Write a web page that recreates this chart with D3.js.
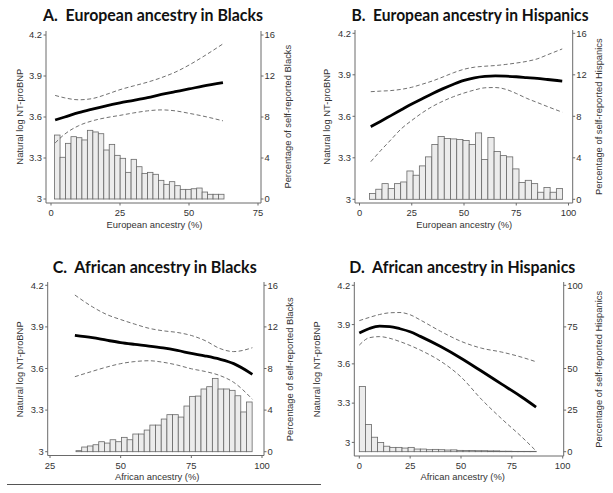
<!DOCTYPE html>
<html><head><meta charset="utf-8">
<script src="https://cdnjs.cloudflare.com/ajax/libs/d3/7.8.5/d3.min.js"></script>
<style>
html,body{margin:0;padding:0;background:#fff;}
svg{display:block;}
</style></head>
<body><svg id="chart" width="613" height="493"></svg>
<script>
// ---------------- DATA ----------------
const titles = ["A.  European ancestry in Blacks","B.  European ancestry in Hispanics","C.  African ancestry in Blacks","D.  African ancestry in Hispanics"];
const xLabels = ["European ancestry (%)","European ancestry (%)","African ancestry (%)","African ancestry (%)"];
const yLabel = "Natural log NT-proBNP";
const rLabels = ["Percentage of self-reported Blacks","Percentage of self-reported Hispanics","Percentage of self-reported Blacks","Percentage of self-reported Hispanics"];

const yTicks = [3, 3.3, 3.6, 3.9, 4.2];
const xTicksA = [0, 25, 50, 75];
const xTicksB = [0, 25, 50, 75, 100];
const xTicksC = [25, 50, 75, 100];
const xTicksD = [0, 25, 50, 75, 100];
const rTicksA = [0, 4, 8, 12, 16];
const rTicksB = [0, 4, 8, 12, 16];
const rTicksC = [0, 4, 8, 12, 16];
const rTicksD = [0, 25, 50, 75, 100];

// histogram bins: first bin start and bin width (ancestry %)
const binStartA = 1.3, binWidthA = 1.98;
const binStartB = 4.8, binWidthB = 2.98;
const binStartC = 34.2, binWidthC = 2.01;
const binStartD = 0, binWidthD = 3.0;

const histA = [6.24,4.07,5.43,6.08,5.98,5.76,6.70,6.54,6.37,4.78,5.33,4.26,3.97,2.60,3.87,3.15,2.50,2.60,2.41,1.82,1.43,1.69,1.30,0.94,0.94,1.00,1.07,0.68,0.46,0.46,0.46];
const histB = [0.55,0.97,1.51,1.03,1.51,1.67,2.73,2.32,3.22,4.09,5.28,6.05,5.86,5.82,5.76,5.66,5.28,6.40,3.83,5.95,4.60,4.21,4.09,2.93,1.61,1.83,1.51,0.68,1.13,0.68,1.03];
const histC = [0.10,0.45,0.55,0.67,0.96,0.83,1.15,0.96,1.38,1.15,1.70,1.70,2.08,2.56,2.56,3.14,3.56,3.56,3.33,4.39,5.32,5.35,6.03,6.25,7.05,6.03,6.03,5.90,5.38,3.82,4.78];
const histD = [39.2,16.3,8.7,5.5,3.3,2.6,2.6,2.2,2.6,1.6,1.6,1.2,1.4,1.2,1.0,1.1,0.8,0.7,0.7,0.6,0.6,0.5,0.5,0.3,0.3,0.2,0.2,0.2,0.2];

// fitted curves (x = ancestry %, y = ln NT-proBNP)
const curveXA = [1.5,5,10,15,20,25,30,35,40,45,50,55,62.3];
const fitA    = [3.578,3.600,3.632,3.658,3.682,3.703,3.722,3.742,3.765,3.785,3.805,3.826,3.852];
const upperA  = [3.758,3.740,3.726,3.735,3.765,3.800,3.828,3.855,3.888,3.928,3.980,4.040,4.135];
const lowerA  = [3.410,3.475,3.536,3.572,3.595,3.612,3.630,3.645,3.652,3.645,3.627,3.607,3.572];

const curveXB = [5.4,10,15,20,25,30,35,40,45,50,55,60,65,70,75,80,85,90,97];
const fitB    = [3.525,3.563,3.605,3.647,3.689,3.727,3.765,3.800,3.832,3.860,3.878,3.888,3.892,3.890,3.886,3.880,3.874,3.866,3.855];
const upperB  = [3.778,3.782,3.786,3.795,3.810,3.832,3.856,3.885,3.915,3.940,3.955,3.962,3.967,3.975,3.985,3.997,4.015,4.045,4.087];
const lowerB  = [3.272,3.350,3.430,3.510,3.570,3.625,3.672,3.710,3.742,3.768,3.790,3.806,3.808,3.795,3.765,3.730,3.700,3.670,3.630];

const curveXC = [33.8,40,45,50,55,60,65,70,75,80,85,90,96.6];
const fitC    = [3.839,3.822,3.804,3.787,3.774,3.762,3.748,3.730,3.709,3.690,3.667,3.635,3.558];
const upperC  = [4.130,4.045,3.990,3.953,3.920,3.890,3.872,3.860,3.838,3.800,3.745,3.722,3.750];
const lowerC  = [3.541,3.580,3.610,3.635,3.650,3.656,3.645,3.625,3.598,3.578,3.550,3.500,3.378];

const curveXD = [0,5,10,15,20,25,30,40,50,60,70,80,86.9];
const fitD    = [3.835,3.870,3.888,3.885,3.868,3.845,3.810,3.732,3.643,3.545,3.445,3.345,3.270];
const upperD  = [3.930,3.955,3.977,3.990,3.992,3.975,3.935,3.848,3.772,3.720,3.690,3.650,3.616];
const lowerD  = [3.743,3.800,3.808,3.795,3.770,3.740,3.705,3.620,3.500,3.330,3.180,3.040,2.935];

// ---------------- LAYOUT ----------------
const panels = [
  {title:titles[0], xLabel:xLabels[0], rLabel:rLabels[0], xTicks:xTicksA, rTicks:rTicksA,
   hist:histA, binStart:binStartA, binWidth:binWidthA, cx:curveXA, fit:fitA, up:upperA, lo:lowerA,
   xDom:[0,75], xRng:[51,258], yRng:[199,35], rDom:[0,16], rRng:[199,35],
   box:{l:46,r:261,t:31,b:203}, tX:153, tY:21, tW:220, xlX:154.5, xlY:228, ylX:19.5, rlX:287.5, lY:116.7},
  {title:titles[1], xLabel:xLabels[1], rLabel:rLabels[1], xTicks:xTicksB, rTicks:rTicksB,
   hist:histB, binStart:binStartB, binWidth:binWidthB, cx:curveXB, fit:fitB, up:upperB, lo:lowerB,
   xDom:[0,100], xRng:[359.5,568.5], yRng:[199.3,33.3], rDom:[0,16], rRng:[199.3,33.3],
   box:{l:355,r:572.7,t:30,b:203}, tX:470, tY:21, tW:237, xlX:464.3, xlY:228, ylX:327, rlX:598.5, lY:116.7},
  {title:titles[2], xLabel:xLabels[2], rLabel:rLabels[2], xTicks:xTicksC, rTicks:rTicksC,
   hist:histC, binStart:binStartC, binWidth:binWidthC, cx:curveXC, fit:fitC, up:upperC, lo:lowerC,
   xDom:[25,100], xRng:[50,262], yRng:[451.7,285.3], rDom:[0,16], rRng:[451.7,285.3],
   box:{l:47.7,r:264,t:282,b:455.5}, tX:154.7, tY:272.7, tW:204, xlX:157.2, xlY:480, ylX:19.5, rlX:289.5, lY:369.3},
  {title:titles[3], xLabel:xLabels[3], rLabel:rLabels[3], xTicks:xTicksD, rTicks:rTicksD,
   hist:histD, binStart:binStartD, binWidth:binWidthD, cx:curveXD, fit:fitD, up:upperD, lo:lowerD,
   xDom:[0,100], xRng:[359.3,562.7], yRng:[442.4,285.3], rDom:[0,100], rRng:[451.7,285.3],
   box:{l:354.3,r:563.7,t:282,b:456}, tX:462.3, tY:272.7, tW:226, xlX:462.7, xlY:480, ylX:317, rlX:598.5, lY:369.3}
];

const svg = d3.select("#chart");
const axisCol = "#6a6a6a", textCol = "#333", font = "'Liberation Sans', Arial, sans-serif";
const fs = 9.4;

panels.forEach(p => {
  const g = svg.append("g");
  const x = d3.scaleLinear().domain(p.xDom).range(p.xRng);
  const y = d3.scaleLinear().domain([3, 4.2]).range(p.yRng);
  const r = d3.scaleLinear().domain(p.rDom).range(p.rRng);

  // histogram
  g.append("g").selectAll("rect").data(p.hist).join("rect")
    .attr("x", (d,i) => x(p.binStart + i*p.binWidth))
    .attr("width", (d,i) => x(p.binStart + (i+1)*p.binWidth) - x(p.binStart + i*p.binWidth))
    .attr("y", d => r(d))
    .attr("height", d => r(0) - r(d))
    .attr("fill", "#ececec").attr("stroke", "#686868").attr("stroke-width", 0.8);

  const line = d3.line().x((d,i) => x(p.cx[i])).y(d => y(d)).curve(d3.curveMonotoneX);
  g.append("path").attr("d", line(p.up)).attr("fill","none").attr("stroke","#606060")
    .attr("stroke-width",0.9).attr("stroke-dasharray","4,2.5");
  g.append("path").attr("d", line(p.lo)).attr("fill","none").attr("stroke","#606060")
    .attr("stroke-width",0.9).attr("stroke-dasharray","4,2.5");
  g.append("path").attr("d", line(p.fit)).attr("fill","none").attr("stroke","#000")
    .attr("stroke-width",2.8);

  // axis lines
  const b = p.box;
  g.append("line").attr("x1",b.l).attr("x2",b.l).attr("y1",b.t).attr("y2",b.b).attr("stroke",axisCol).attr("stroke-width",1);
  g.append("line").attr("x1",b.r).attr("x2",b.r).attr("y1",b.t).attr("y2",b.b).attr("stroke",axisCol).attr("stroke-width",1);
  g.append("line").attr("x1",b.l).attr("x2",b.r).attr("y1",b.b).attr("y2",b.b).attr("stroke",axisCol).attr("stroke-width",1);

  // left ticks
  yTicks.forEach(t => {
    g.append("line").attr("x1",b.l-2.5).attr("x2",b.l).attr("y1",y(t)).attr("y2",y(t)).attr("stroke",axisCol);
    g.append("text").attr("x",b.l-4).attr("y",y(t)).attr("dy","0.35em").attr("text-anchor","end")
      .attr("font-family",font).attr("font-size",fs).attr("fill",textCol).text(String(t));
  });
  // right ticks
  p.rTicks.forEach(t => {
    g.append("line").attr("x1",b.r).attr("x2",b.r+2.5).attr("y1",r(t)).attr("y2",r(t)).attr("stroke",axisCol);
    g.append("text").attr("x",b.r+3.5).attr("y",r(t)).attr("dy","0.35em").attr("text-anchor","start")
      .attr("font-family",font).attr("font-size",fs).attr("fill",textCol).text(String(t));
  });
  // x ticks
  p.xTicks.forEach(t => {
    g.append("line").attr("x1",x(t)).attr("x2",x(t)).attr("y1",b.b).attr("y2",b.b+2.5).attr("stroke",axisCol);
    g.append("text").attr("x",x(t)).attr("y",b.b+13).attr("text-anchor","middle")
      .attr("font-family",font).attr("font-size",fs).attr("fill",textCol).text(String(t));
  });

  // titles
  g.append("text").attr("x",p.tX).attr("y",p.tY).attr("text-anchor","middle")
    .attr("font-family","Lato, 'Open Sans', sans-serif").attr("font-weight","bold").attr("font-size",16.8)
    .attr("textLength",p.tW).attr("lengthAdjust","spacingAndGlyphs")
    .style("white-space","pre").attr("fill","#111").text(p.title);
  g.append("text").attr("x",p.xlX).attr("y",p.xlY).attr("text-anchor","middle")
    .attr("font-family",font).attr("font-size",fs).attr("fill",textCol).text(p.xLabel);
  g.append("text").attr("transform",`translate(${p.ylX},${p.lY}) rotate(-90)`).attr("text-anchor","middle")
    .attr("dy","0.35em").attr("font-family",font).attr("font-size",fs).attr("fill",textCol).text(yLabel);
  g.append("text").attr("transform",`translate(${p.rlX},${p.lY}) rotate(-90)`).attr("text-anchor","middle")
    .attr("dy","0.35em").attr("font-family",font).attr("font-size",fs).attr("fill",textCol).text(p.rLabel);
});

// separator line under panel C
svg.append("line").attr("x1",7).attr("x2",321).attr("y1",484.5).attr("y2",484.5)
  .attr("stroke","#555").attr("stroke-width",1.2);
</script></body></html>
